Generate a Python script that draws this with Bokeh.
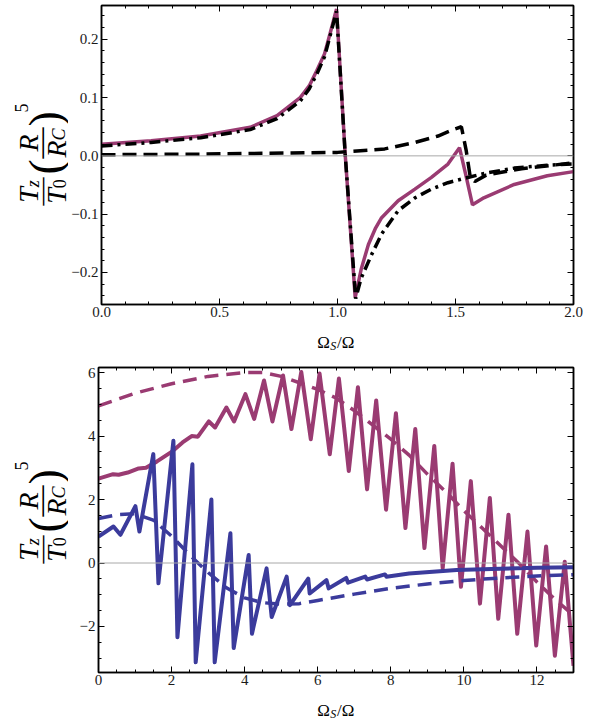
import math
from bokeh.plotting import figure
from bokeh.models import (Range1d, LinearAxis, SingleIntervalTicker,
                          CustomJSTickFormatter, Span)
from bokeh.layouts import column, row
from bokeh.core.properties import value
from bokeh.embed import file_html
from bokeh.resources import INLINE

FONT = "Liberation Serif"
MAG = "#9a3b72"
BLUE = "#3b3b9c"

# ---------------- top panel data (Omega_S/Omega in 0..2) ----------------
top_solid_x = [0.0, 0.21, 0.42, 0.63, 0.744, 0.842, 0.88, 0.912, 0.945, 0.968, 0.996,
               1.033, 1.075, 1.10, 1.131, 1.16, 1.187, 1.257, 1.328, 1.398, 1.468,
               1.517, 1.545, 1.572, 1.62, 1.749, 1.889, 2.0]
top_solid_y = [0.020, 0.026, 0.034, 0.049, 0.069, 0.100, 0.120, 0.146, 0.175, 0.209, 0.252,
               0.0, -0.243, -0.195, -0.152, -0.125, -0.106, -0.077, -0.057, -0.037, -0.014,
               0.014, -0.035, -0.084, -0.072, -0.049, -0.034, -0.027]

top_dashdot_x = [0.0, 0.21, 0.42, 0.63, 0.744, 0.842, 0.88, 0.912, 0.945, 0.968, 0.996,
                 1.033, 1.077, 1.10, 1.145, 1.187, 1.257, 1.328, 1.398, 1.468, 1.552,
                 1.636, 1.749, 1.889, 2.0]
top_dashdot_y = [0.017, 0.023, 0.031, 0.045, 0.064, 0.094, 0.115, 0.140, 0.170, 0.205, 0.248,
                 0.0, -0.245, -0.21, -0.169, -0.134, -0.094, -0.072, -0.057, -0.046, -0.037,
                 -0.029, -0.021, -0.016, -0.014]

top_dash_x = [0.0, 0.42, 1.0, 1.2, 1.328, 1.426, 1.496, 1.525, 1.545, 1.562, 1.582,
              1.63, 1.78, 2.0]
top_dash_y = [0.002, 0.003, 0.006, 0.012, 0.023, 0.034, 0.046, 0.050, 0.010, -0.035,
              -0.044, -0.033, -0.022, -0.012]

# ---------------- bottom panel data (Omega_S/Omega in 0..13) ----------------
bot_mag_solid_x = [0.0, 0.4, 0.55, 0.8, 1.1, 1.3, 1.6, 2.0, 2.3, 2.55, 2.72, 3.02, 3.19,
                   3.5, 3.71, 4.02, 4.26, 4.53, 4.76, 5.05, 5.28, 5.55, 5.81, 6.05, 6.33,
                   6.58, 6.85, 7.1, 7.35, 7.6, 7.87, 8.14, 8.4, 8.67, 8.92, 9.19, 9.42,
                   9.69, 9.92, 10.19, 10.44, 10.71, 10.94, 11.22, 11.46, 11.74, 11.98,
                   12.25, 12.49, 12.76, 13.0]
bot_mag_solid_y = [2.66, 2.8, 2.78, 2.85, 2.98, 3.0, 3.2, 3.5, 3.8, 4.0, 3.98, 4.46, 4.27,
                   4.9, 4.46, 5.32, 4.54, 5.75, 4.46, 5.91, 4.22, 6.02, 3.9, 5.97, 3.43,
                   5.81, 2.9, 5.54, 2.32, 5.12, 1.68, 4.72, 1.1, 4.22, 0.47, 3.69, -0.17,
                   3.13, -0.75, 2.58, -1.28, 2.05, -1.76, 1.52, -2.23, 0.99, -2.6,
                   0.52, -2.92, 0.04, -3.24]

bot_mag_dash_x = [0, 1, 2, 3, 4, 4.5, 5, 5.5, 6, 6.5, 7, 7.5, 8, 8.5, 9, 9.5, 10, 10.5,
                  11, 11.5, 12, 12.5, 13]
bot_mag_dash_y = [4.95, 5.35, 5.65, 5.88, 6.0, 6.0, 5.88, 5.68, 5.47, 5.2, 4.8, 4.35, 3.9,
                  3.4, 2.8, 2.25, 1.65, 1.1, 0.55, 0.0, -0.6, -1.15, -1.65]

bot_blue_solid_x = [0.0, 0.41, 0.6, 1.01, 1.12, 1.5, 1.64, 2.05, 2.16, 2.57, 2.66, 3.09,
                    3.18, 3.61, 3.7, 4.11, 4.2, 4.6, 4.74, 5.15, 5.24, 5.74, 5.78, 6.24,
                    6.3, 6.78, 6.83, 7.3, 7.35, 7.84, 7.88, 8.5, 9.8, 11.0, 12.0, 13.0]
bot_blue_solid_y = [0.83, 1.15, 0.89, 1.79, 0.99, 3.43, -0.64, 3.85, -2.34, 3.11, -3.13,
                    2.0, -3.13, 0.94, -2.68, 0.25, -2.23, -0.17, -1.7, -0.43, -1.33,
                    -0.49, -0.96, -0.54, -0.8, -0.47, -0.62, -0.43, -0.52, -0.36, -0.43,
                    -0.33, -0.22, -0.18, -0.15, -0.13]

bot_blue_dash_x = [0, 0.5, 1.0, 1.5, 2.0, 2.5, 3.0, 3.5, 4.0, 4.5, 5.0, 5.5, 6.0, 7.0,
                   8.0, 9.0, 10.0, 11.0, 12.0, 13.0]
bot_blue_dash_y = [1.4, 1.52, 1.55, 1.35, 0.85, 0.25, -0.3, -0.78, -1.1, -1.25, -1.3,
                   -1.28, -1.18, -0.98, -0.8, -0.66, -0.55, -0.47, -0.41, -0.37]

YLAB_W = 68
LEFT_B = 30
MAIN_W = LEFT_B + 475 + 10
FULL_W = YLAB_W + MAIN_W


def fmt(decimals):
    return CustomJSTickFormatter(code="""
        const v = Math.abs(tick) < 1e-9 ? 0 : tick;
        return (v < 0 ? '\\u2212' : '') + Math.abs(v).toFixed(%d);
    """ % decimals)


def style_axis(ax, interval, nminor, decimals, standoff, labels=True):
    ax.ticker = SingleIntervalTicker(interval=interval, num_minor_ticks=nminor)
    ax.major_tick_in = 6
    ax.major_tick_out = 0
    ax.minor_tick_in = 3
    ax.minor_tick_out = 0
    ax.axis_line_color = "black"
    ax.axis_line_width = 1.5
    ax.major_tick_line_color = "black"
    ax.minor_tick_line_color = "black"
    ax.major_tick_line_width = 1
    ax.minor_tick_line_width = 1
    ax.major_label_text_font = FONT
    ax.major_label_text_font_size = "15px"
    ax.major_label_text_color = "#1a1a1a"
    ax.major_label_standoff = standoff
    if labels:
        ax.formatter = fmt(decimals)
    else:
        ax.formatter = CustomJSTickFormatter(code="return '';")
        ax.major_label_text_font_size = "0px"
        ax.major_label_standoff = 0


def make_fig(height, xr, yr, top, bottom, xint, xminor, xdec, yint, yminor, ydec):
    p = figure(width=MAIN_W, height=height, x_range=Range1d(*xr), y_range=Range1d(*yr),
               output_backend="svg", toolbar_location=None,
               min_border_left=LEFT_B, min_border_right=10,
               min_border_top=top, min_border_bottom=bottom)
    p.xgrid.visible = False
    p.ygrid.visible = False
    p.outline_line_color = "black"
    p.outline_line_width = 1.5
    style_axis(p.xaxis[0], xint, xminor, xdec, 2)
    style_axis(p.yaxis[0], yint, yminor, ydec, 3)
    ta = LinearAxis()
    style_axis(ta, xint, xminor, xdec, 0, labels=False)
    p.add_layout(ta, "above")
    ra = LinearAxis()
    style_axis(ra, yint, yminor, ydec, 0, labels=False)
    p.add_layout(ra, "right")
    p.add_layout(Span(location=0, dimension="width", line_color="#a8a8a8", line_width=1))
    return p


def text_fig(w, h, top=0, bottom=0):
    # data units = canvas pixels measured from the canvas bottom-left corner;
    # the frame is inset by the same borders as the neighbouring plot so that
    # row alignment of frames does not rescale it.
    f = figure(width=w, height=h, x_range=Range1d(0, w), y_range=Range1d(bottom, h - top),
               output_backend="svg", toolbar_location=None,
               min_border_left=0, min_border_right=0,
               min_border_top=top, min_border_bottom=bottom,
               x_axis_type=None, y_axis_type=None)
    f.outline_line_color = None
    return f


def txt(f, x, y, t, size, style="normal", angle=0.0):
    f.text(x=[x], y=[y], text=[t], angle=angle, text_font=value(FONT),
           text_font_size=value("%spx" % size), text_font_style=value(style),
           text_baseline="alphabetic", text_align="left", text_color="black")


def ylabel_fig(h, top, bottom, ycenter, xbar=33.0):
    f = text_fig(YLAB_W, h, top, bottom)
    u0 = ycenter - 51.0
    a = math.pi / 2
    pieces = [
        ("T", 2.7, 5.0, 28, "italic"),
        ("z", 18.3, 1.0, 18, "italic"),
        ("\u2014", 0.0, -6.7, 28, "normal"),
        ("T", 1.7, -22.5, 28, "italic"),
        ("0", 17.3, -25.5, 18, "normal"),
        ("(", 31.0, -12.0, 46, "normal"),
        ("\u2014", 47.0, -7.4, 31, "normal"),
        ("R", 54.0, 5.0, 28, "italic"),
        ("R", 48.0, -22.5, 28, "italic"),
        ("C", 65.1, -25.5, 18, "italic"),
        (")", 79.0, -12.0, 46, "normal"),
        ("5", 93.0, 12.0, 18, "normal"),
    ]
    for t, u, v, s, st in pieces:
        txt(f, xbar - v, u0 + u, t, s, st, angle=a)
    return f


def xlabel_fig(h, ybase, xc=YLAB_W + LEFT_B + 237.5):
    f = text_fig(FULL_W, h)
    x0 = xc - 18.7
    txt(f, x0, ybase, "\u03a9", 17)
    txt(f, x0 + 13.0, ybase - 3, "S", 12, "italic")
    txt(f, x0 + 19.7, ybase, "/\u03a9", 17)
    return f


# ---------------- top panel ----------------
H1, T1, B1 = 323, 5, 19
p1 = make_fig(H1, (0, 2), (-0.255, 0.258), T1, B1, 0.5, 5, 1, 0.1, 5, 1)
p1.line(top_solid_x, top_solid_y, line_color=MAG, line_width=3.5)
p1.line(top_dash_x, top_dash_y, line_color="black", line_width=3.5, line_dash="14 7")
p1.line(top_dashdot_x, top_dashdot_y, line_color="black", line_width=3.5,
        line_dash="11 5 3 5")
yl1 = ylabel_fig(H1, T1, B1, H1 - 154.0)
XH1 = 34
xl1 = xlabel_fig(XH1, 15)

# ---------------- bottom panel ----------------
H2, T2, B2 = 334, 10, 19
p2 = make_fig(H2, (0, 13), (-3.45, 6.16), T2, B2, 2, 4, 0, 2, 4, 0)
p2.line(bot_mag_solid_x, bot_mag_solid_y, line_color=MAG, line_width=4, line_join="round")
p2.line(bot_blue_solid_x, bot_blue_solid_y, line_color=BLUE, line_width=4, line_join="round")
p2.line(bot_mag_dash_x, bot_mag_dash_y, line_color=MAG, line_width=3.5, line_dash="14 8")
p2.line(bot_blue_dash_x, bot_blue_dash_y, line_color=BLUE, line_width=3.5, line_dash="14 8")
top2 = H1 + XH1
yl2 = ylabel_fig(H2, T2, B2, H2 - (512.0 - top2))
xl2 = xlabel_fig(29, 10)

layout = column(row(yl1, p1, spacing=0), xl1, row(yl2, p2, spacing=0), xl2, spacing=0)
with open("out.html", "w", encoding="utf-8") as f:
    f.write(file_html(layout, INLINE))
